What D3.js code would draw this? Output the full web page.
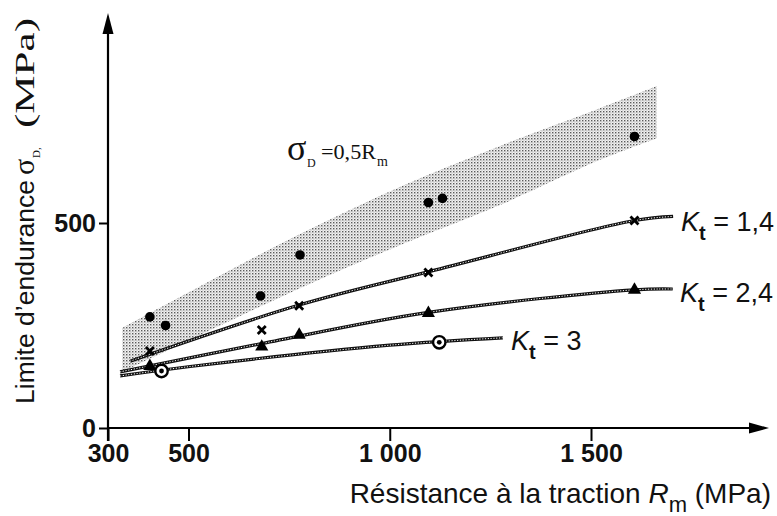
<!DOCTYPE html>
<html>
<head>
<meta charset="utf-8">
<script src="https://cdn.jsdelivr.net/npm/d3@7"></script>
<style>
  body { margin: 0; background: #fff; }
  svg { display: block; }
</style>
</head>
<body>
<div id="chart"></div>
<script>
// values (Rm in MPa, sigma_D in MPa)
const dotRm = [404, 443, 679, 777, 1096, 1131, 1608];
const dotSigma = [271, 250, 322, 422, 550, 560, 711];
const crossRm = [404, 682, 775, 1096, 1608];
const crossSigma = [188, 239, 298, 379, 506];
const triRm = [404, 682, 775, 1096, 1608];
const triSigma = [151, 198, 227, 280, 337];
const ringRm = [433, 1123];
const ringSigma = [139, 209];

// fitted curves
const kt14Rm = [355, 775, 1100, 1608, 1704];
const kt14Sigma = [163, 300, 382, 506, 516];
const kt24Rm = [330, 682, 1096, 1608, 1703];
const kt24Sigma = [137, 206, 282, 337, 339];
const kt3Rm = [330, 504, 1000, 1281];
const kt3Sigma = [127, 150, 202, 220];

// scatter band
const bandRm = [335, 529, 777, 1025, 1274, 1522, 1664];
const bandHigh = [244, 346, 473, 588, 688, 780, 834];
const bandLow = [137, 227, 341, 446, 544, 654, 707];

const xTicks = [300, 500, 1000, 1500];
const yTicks = [0, 500];

const width = 777, height = 516;

const svg = d3.select("#chart").append("svg")
    .attr("width", width)
    .attr("height", height);

const x = d3.scaleLinear().domain([300, 1500]).range([108, 591]);
const y = d3.scaleLinear().domain([0, 500]).range([428, 223]);

const sans = "'Liberation Sans', Arial, sans-serif";
const serif = "'Liberation Serif', 'Times New Roman', serif";
const ink = "#111";

// stipple pattern for the band
const defs = svg.append("defs");
const pat = defs.append("pattern")
    .attr("id", "stipple")
    .attr("patternUnits", "userSpaceOnUse")
    .attr("width", 3).attr("height", 3);
pat.append("rect").attr("width", 3).attr("height", 3).attr("fill", "#f2f2f2");
pat.append("rect").attr("x", 0).attr("y", 0).attr("width", 1.4).attr("height", 1.4).attr("fill", "#5a5a5a");
pat.append("rect").attr("x", 1.5).attr("y", 1.5).attr("width", 1).attr("height", 1).attr("fill", "#9a9a9a");

const band = bandRm.map((d, i) => ({rm: d, hi: bandHigh[i], lo: bandLow[i]}));
svg.append("path")
    .datum(band)
    .attr("d", d3.area()
        .x(d => x(d.rm))
        .y0(d => y(d.lo))
        .y1(d => y(d.hi))
        .curve(d3.curveCatmullRom.alpha(0.5)))
    .attr("fill", "url(#stipple)");

// curves: black rope look
const line = d3.line().x(d => x(d[0])).y(d => y(d[1])).curve(d3.curveCatmullRom.alpha(0.5));
[[kt14Rm, kt14Sigma], [kt24Rm, kt24Sigma], [kt3Rm, kt3Sigma]].forEach(c => {
    const pts = c[0].map((d, i) => [d, c[1][i]]);
    svg.append("path").datum(pts).attr("d", line)
        .attr("fill", "none").attr("stroke", ink).attr("stroke-width", 3.2);
    svg.append("path").datum(pts).attr("d", line)
        .attr("fill", "none").attr("stroke", "#fff").attr("stroke-width", 1)
        .attr("stroke-dasharray", "1.2 1.6");
});

// axes
const fmt = v => v >= 1000 ? d3.format(",")(v).replace(",", " ") : String(v);

const xAxis = svg.append("g")
    .attr("transform", "translate(0," + y(0) + ")")
    .call(d3.axisBottom(x).tickValues(xTicks).tickSize(13).tickPadding(3).tickFormat(fmt));
xAxis.select(".domain").remove();
xAxis.selectAll("line").attr("stroke", "#000").attr("stroke-width", 2);
xAxis.selectAll("text")
    .attr("font-family", sans).attr("font-size", 25).attr("font-weight", "bold")
    .attr("fill", ink);

const yAxis = svg.append("g")
    .attr("transform", "translate(" + x(300) + ",0)")
    .call(d3.axisLeft(y).tickValues(yTicks).tickSize(9).tickPadding(3).tickFormat(d => d));
yAxis.select(".domain").remove();
yAxis.selectAll("line").attr("stroke", "#000").attr("stroke-width", 2);
yAxis.selectAll("text")
    .attr("font-family", sans).attr("font-size", 25).attr("font-weight", "bold")
    .attr("fill", ink);

// axis lines with arrows
svg.append("line").attr("x1", x(300)).attr("x2", 752).attr("y1", y(0)).attr("y2", y(0))
    .attr("stroke", "#000").attr("stroke-width", 2.2);
svg.append("path").attr("d", "M769," + y(0) + " L749," + (y(0) - 5.5) + " L749," + (y(0) + 5.5) + " Z")
    .attr("fill", "#000");
svg.append("line").attr("x1", x(300)).attr("x2", x(300)).attr("y1", y(0) + 13).attr("y2", 34)
    .attr("stroke", "#000").attr("stroke-width", 2.2);
svg.append("path").attr("d", "M" + x(300) + ",13 L" + (x(300) - 5.5) + ",34 L" + (x(300) + 5.5) + ",34 Z")
    .attr("fill", "#000");

// markers
svg.selectAll(".dot").data(dotRm).join("circle")
    .attr("cx", d => x(d)).attr("cy", (d, i) => y(dotSigma[i]))
    .attr("r", 4.8).attr("fill", "#000");

svg.selectAll(".cross").data(crossRm).join("path")
    .attr("transform", (d, i) => "translate(" + x(d) + "," + y(crossSigma[i]) + ")")
    .attr("d", "M-4,-4 L4,4 M-4,4 L4,-4")
    .attr("stroke", "#000").attr("stroke-width", 2.8);

svg.selectAll(".tri").data(triRm).join("path")
    .attr("transform", (d, i) => "translate(" + x(d) + "," + y(triSigma[i]) + ")")
    .attr("d", d3.symbol(d3.symbolTriangle, 75))
    .attr("fill", "#000");

ringRm.forEach((d, i) => {
    svg.append("circle").attr("cx", x(d)).attr("cy", y(ringSigma[i]))
        .attr("r", 6.2).attr("fill", "#fff").attr("stroke", "#000").attr("stroke-width", 2.4);
    svg.append("circle").attr("cx", x(d)).attr("cy", y(ringSigma[i]))
        .attr("r", 2.4).attr("fill", "#000");
});

// curve labels
function ktLabel(px, py, val) {
    const t = svg.append("text").attr("x", px).attr("y", py)
        .attr("font-family", sans).attr("font-size", 27).attr("fill", ink);
    t.append("tspan").attr("font-style", "italic").text("K");
    t.append("tspan").attr("font-size", 20).attr("font-weight", "bold").attr("dy", 9).text("t");
    t.append("tspan").attr("dy", -9).text(" = " + val);
}
ktLabel(681, 231, "1,4");
ktLabel(680, 302, "2,4");
ktLabel(511, 350, "3");

// band label (serif insert, slightly stretched as in the scan)
svg.append("text").attr("x", 287).attr("y", 160)
    .attr("font-family", serif).attr("font-size", 36).attr("fill", ink).text("σ");
svg.append("text").attr("x", 307).attr("y", 167)
    .attr("font-family", serif).attr("font-size", 12).attr("fill", ink).text("D");
svg.append("text").attr("x", 321).attr("y", 159)
    .attr("font-family", serif).attr("font-size", 20).attr("fill", ink)
    .attr("textLength", 55).attr("lengthAdjust", "spacingAndGlyphs").text("=0,5R");
svg.append("text").attr("x", 377).attr("y", 166)
    .attr("font-family", serif).attr("font-size", 14).attr("fill", ink).text("m");

// axis titles
const xt = svg.append("text").attr("x", 771).attr("y", 503).attr("text-anchor", "end")
    .attr("font-family", sans).attr("font-size", 28).attr("fill", ink);
xt.append("tspan").text("Résistance à la traction ");
xt.append("tspan").attr("font-style", "italic").text("R");
xt.append("tspan").attr("font-size", 22).attr("dy", 9).text("m");
xt.append("tspan").attr("dy", -9).text(" (MPa)");

const yt = svg.append("g").attr("transform", "translate(34,0) rotate(-90)");
yt.append("text").attr("x", -404).attr("y", 0)
    .attr("font-family", sans).attr("font-size", 26.5).attr("fill", ink)
    .text("Limite d\u2019endurance");
yt.append("text").attr("x", -175).attr("y", 0)
    .attr("font-family", serif).attr("font-size", 30).attr("fill", ink).text("σ");
yt.append("text").attr("x", -158).attr("y", 6)
    .attr("font-family", serif).attr("font-size", 11).attr("fill", ink).text("D,");
yt.append("text").attr("x", -128).attr("y", 0)
    .attr("font-family", serif).attr("font-size", 27).attr("fill", ink)
    .attr("textLength", 110).attr("lengthAdjust", "spacingAndGlyphs").text("(MPa)");
</script>
</body>
</html>
